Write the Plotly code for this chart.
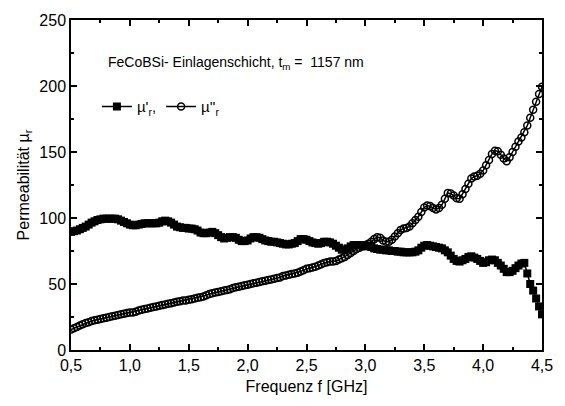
import numpy as np
import plotly.graph_objects as go

# Frequency grid (GHz), 0.025 GHz spacing
freq = np.round(np.linspace(0.5, 4.5, 161), 3)

mu_real = [
    89.5, 90, 90.5, 91.5, 92.5, 93.5, 95, 96.5,
    97.5, 98.5, 99, 99.5, 99.5, 99.5, 99.5, 99.5,
    99, 98, 97, 96, 95, 94.5, 94.5, 95,
    95.5, 96, 96, 96, 96, 96, 96.5, 97.5,
    98, 97.5, 96.5, 95, 93.5, 93, 92.5, 92.5,
    92, 92, 91.5, 90.5, 89, 88.5, 88.5, 89,
    89.5, 88.5, 87, 85.5, 84.5, 85, 85.5, 85.5,
    85, 83.5, 82.5, 82.5, 83, 84.5, 85.5, 85.5,
    85, 84, 83, 82.5, 82, 82, 81.5, 81,
    80.5, 80, 80, 80.5, 81, 82.5, 84, 84,
    83.5, 82.5, 81.5, 81, 80.5, 81, 82, 82,
    81.5, 80.5, 79, 77.5, 76, 76, 77, 78.5,
    79.5, 79.5, 79.5, 79, 79, 78.5, 78, 77,
    76.5, 76, 76, 75.5, 75.5, 75, 75, 74.5,
    74.5, 74, 74, 74, 74, 74.5, 75.5, 77.5,
    79, 79.5, 79, 78.5, 78, 77.5, 77, 75.5,
    74, 71.5, 69, 67.5, 67, 68, 69, 70.5,
    71, 70, 69, 67.5, 66, 66.5, 68, 68.5,
    68, 66, 64, 61.5, 59, 59, 60, 62,
    64, 65.5, 66, 58, 50, 45, 39, 33,
    27,
]

mu_imag = [
    15.5, 16.5, 17.5, 18.5, 19.5, 20.5, 21, 22,
    22.5, 23, 23.5, 24, 24.5, 25, 25.5, 26,
    26.5, 27, 27.5, 28, 28.5, 28.5, 29, 30,
    30.5, 31, 31.5, 32, 32.5, 33, 33.5, 34,
    34.5, 35, 35.5, 36, 36.5, 37, 37.5, 37.5,
    38, 38.5, 39, 39.5, 40, 40.5, 41.5, 42.5,
    43, 43.5, 44, 44.5, 45, 45.5, 46, 47,
    47.5, 48, 48.5, 49, 49.5, 50, 50.5, 51,
    51.5, 52, 52.5, 53, 53.5, 54, 54.5, 55,
    56, 56.5, 57, 57.5, 58, 58.5, 59.5, 60.5,
    61.5, 62, 62.5, 63, 64, 65, 66, 66.5,
    67, 67, 67.5, 68.5, 69.5, 70.5, 72, 73.5,
    75, 76.5, 77.5, 78.5, 79.5, 80.5, 82, 84,
    85.5, 85, 83, 82, 82, 83.5, 86, 88.5,
    91, 92, 92.5, 93.5, 96, 98.5, 101, 104.5,
    108, 109.5, 109, 107.5, 106.5, 107.5, 110, 114.5,
    119, 118.5, 117, 115, 114.5, 118, 122, 126,
    130, 131.5, 132, 133.5, 136, 140, 144, 148.5,
    151, 150.5, 148, 145, 143, 146, 150, 154,
    158, 161, 165, 170, 176, 182, 188, 194,
    199.5,
]

x_ticks = [0.5, 1.0, 1.5, 2.0, 2.5, 3.0, 3.5, 4.0, 4.5]
y_ticks = [0, 50, 100, 150, 200, 250]

FONT = "Liberation Sans, Arial, sans-serif"

fig = go.Figure()
fig.add_trace(go.Scatter(
    x=freq, y=mu_real, mode="lines+markers",
    name="µ'<sub>r</sub>,",
    line=dict(color="black", width=1.5),
    marker=dict(symbol="square", size=8, color="black"),
))
fig.add_trace(go.Scatter(
    x=freq, y=mu_imag, mode="lines+markers",
    name="µ''<sub>r</sub>",
    line=dict(color="black", width=1.5),
    marker=dict(symbol="circle-open", size=7, color="black", line=dict(width=1.5)),
))

axis_common = dict(
    showline=True, linecolor="black", linewidth=1.5, mirror="allticks",
    ticks="inside", ticklen=6, tickwidth=1.5, tickcolor="black",
    showgrid=False, zeroline=False,
    tickfont=dict(family=FONT, size=16, color="black"),
)

fig.update_layout(
    width=565, height=406,
    margin=dict(l=71, r=17, t=15, b=56),
    paper_bgcolor="white", plot_bgcolor="white",
    separators=",.",
    font=dict(family=FONT, color="black"),
    showlegend=True,
    legend=dict(
        orientation="h", x=0.055, y=0.737, xanchor="left", yanchor="middle",
        bgcolor="rgba(0,0,0,0)", font=dict(family=FONT, size=15, color="black"),
        itemwidth=30, tracegroupgap=0,
    ),
    xaxis=dict(
        range=[0.5, 4.5], tickvals=x_ticks, tickformat=".1f",
        minor=dict(dtick=0.25, ticks="inside", ticklen=3, tickcolor="black", tickwidth=1.5),
        title=dict(text="Frequenz f [GHz]", font=dict(family=FONT, size=16, color="black"), standoff=8),
        **axis_common,
    ),
    yaxis=dict(
        range=[0, 250], tickvals=y_ticks,
        minor=dict(dtick=25, ticks="inside", ticklen=3, tickcolor="black", tickwidth=1.5),
        title=dict(text="Permeabilität µ<sub>r</sub>", font=dict(family=FONT, size=16, color="black"), standoff=6),
        **axis_common,
    ),
)

fig.add_annotation(
    x=0.075, y=0.87, xref="paper", yref="paper", xanchor="left", yanchor="middle",
    text="FeCoBSi- Einlagenschicht, t<sub>m</sub> =  1157 nm",
    showarrow=False, font=dict(family=FONT, size=14, color="black"),
)

fig.write_html("out.html")
